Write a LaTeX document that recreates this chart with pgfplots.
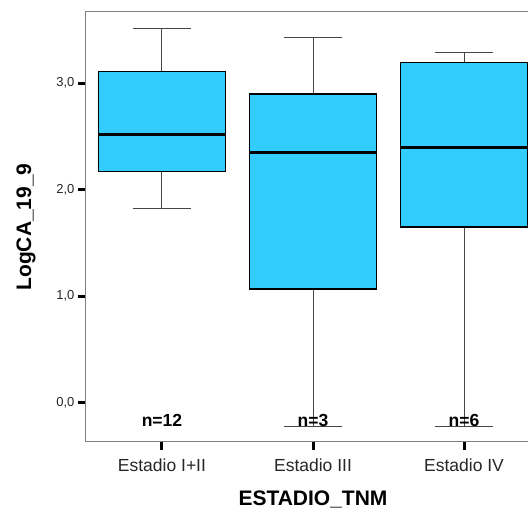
\documentclass[border=0pt]{standalone}
\usepackage{fontspec}
\setmainfont{Liberation Sans}
\usepackage{pgfplots}
\pgfplotsset{compat=1.18}
\usepgfplotslibrary{statistics}
\definecolor{boxfill}{RGB}{51,204,255}
\definecolor{frame}{RGB}{128,128,128}
\definecolor{whisk}{RGB}{70,70,70}

\begin{document}
\begin{tikzpicture}
\begin{axis}[
  anchor=south west, at={(86pt,69pt)},
  scale only axis, width=454pt, height=430pt,
  xmin=-0.503, xmax=2.503,
  ymin=-0.369, ymax=3.669,
  axis line style={draw=frame, line width=1pt},
  xtick={0,1,2},
  xticklabels={Estadio I+II, Estadio III, Estadio IV},
  ytick={0,1,2,3},
  yticklabels={{0,0},{1,0},{2,0},{3,0}},
  xtick pos=bottom, ytick pos=left,
  tick align=outside,
  major tick length=8pt,
  every tick/.style={black, line width=3pt},
  yticklabel style={font=\fontsize{13}{13}\selectfont, text=black!85},
  xticklabel style={font=\fontsize{17.5}{17.5}\selectfont, text=black!85, yshift=-5pt},
  xlabel={ESTADIO\_TNM},
  ylabel={LogCA\_19\_9},
  xlabel style={font=\fontsize{21}{21}\selectfont\bfseries},
  ylabel style={font=\fontsize{21}{21}\selectfont\bfseries},
  xlabel shift=13pt,
  ylabel shift=14pt,
  boxplot/draw direction=y,
  boxplot/every box/.style={draw=black, line width=1.7pt},
  boxplot/every whisker/.style={draw=whisk, line width=1pt},
  boxplot/every median/.style={draw=black, line width=3pt},
  boxplot/box extend=0.84,
  boxplot/whisker extend=0.39,
  clip=false,
]
% Estadio I+II
\addplot[fill=boxfill, draw=black, boxplot prepared={draw position=0,
  lower whisker=1.82, lower quartile=2.17, median=2.52,
  upper quartile=3.11, upper whisker=3.515}] coordinates {};
% Estadio III
\addplot[fill=boxfill, draw=black, boxplot prepared={draw position=1,
  lower whisker=-0.228, lower quartile=1.065, median=2.35,
  upper quartile=2.90, upper whisker=3.43}] coordinates {};
% Estadio IV
\addplot[fill=boxfill, draw=black, boxplot prepared={draw position=2,
  lower whisker=-0.228, lower quartile=1.65, median=2.40,
  upper quartile=3.196, upper whisker=3.29}] coordinates {};
% group sizes
\node[anchor=base, font=\fontsize{17.5}{17.5}\selectfont\bfseries] at (axis cs:0,-0.225) {n=12};
\node[anchor=base, font=\fontsize{17.5}{17.5}\selectfont\bfseries] at (axis cs:1,-0.225) {n=3};
\node[anchor=base, font=\fontsize{17.5}{17.5}\selectfont\bfseries] at (axis cs:2,-0.225) {n=6};
\end{axis}
\pgfresetboundingbox
\useasboundingbox (0,0) rectangle (528pt,511pt);
\end{tikzpicture}
\end{document}
